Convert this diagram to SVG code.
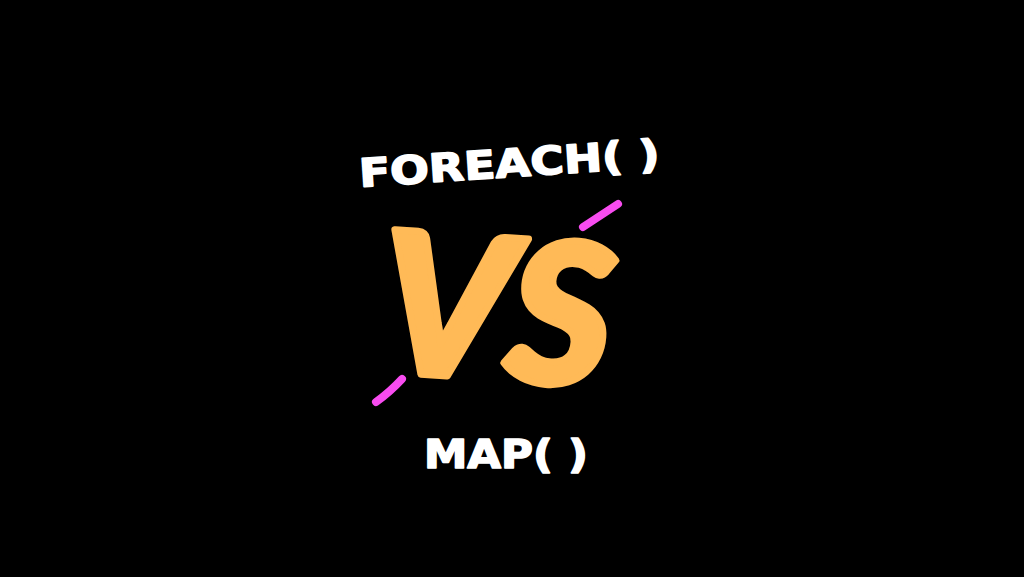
<svg xmlns="http://www.w3.org/2000/svg" width="1024" height="577" viewBox="0 0 1024 577">
<style>
.lbl{font-family:"DejaVu Sans","Liberation Sans",sans-serif;font-weight:bold;fill:#ffffff;stroke:#ffffff;stroke-width:1.6;stroke-linejoin:round}
.vs{font-family:Lato,"Liberation Sans",sans-serif;font-weight:900;font-style:italic;fill:#FFBA57;stroke:#FFBA57;stroke-width:7;stroke-linejoin:round}
.dash{stroke:#F84CF0;stroke-width:8;stroke-linecap:round;fill:none}
</style>
<rect width="1024" height="577" fill="#000000"/>
<g id="foreach">
<text class="lbl" x="360" y="187" font-size="39" textLength="301" lengthAdjust="spacingAndGlyphs" transform="rotate(-3.8 360 187)">FOREACH( )</text>
</g>
<g id="vs">
<text class="vs" x="376" y="371" font-size="196" textLength="232" lengthAdjust="spacingAndGlyphs" transform="rotate(4 376 371)">VS</text>
</g>
<g id="map">
<text class="lbl" x="424" y="468" font-size="39" textLength="164" lengthAdjust="spacingAndGlyphs">MAP( )</text>
</g>
<g id="connectors">
<path class="dash" d="M583 227 L618 204"/>
<path class="dash" d="M402 379 Q390 392 376 402"/>
</g>
</svg>
